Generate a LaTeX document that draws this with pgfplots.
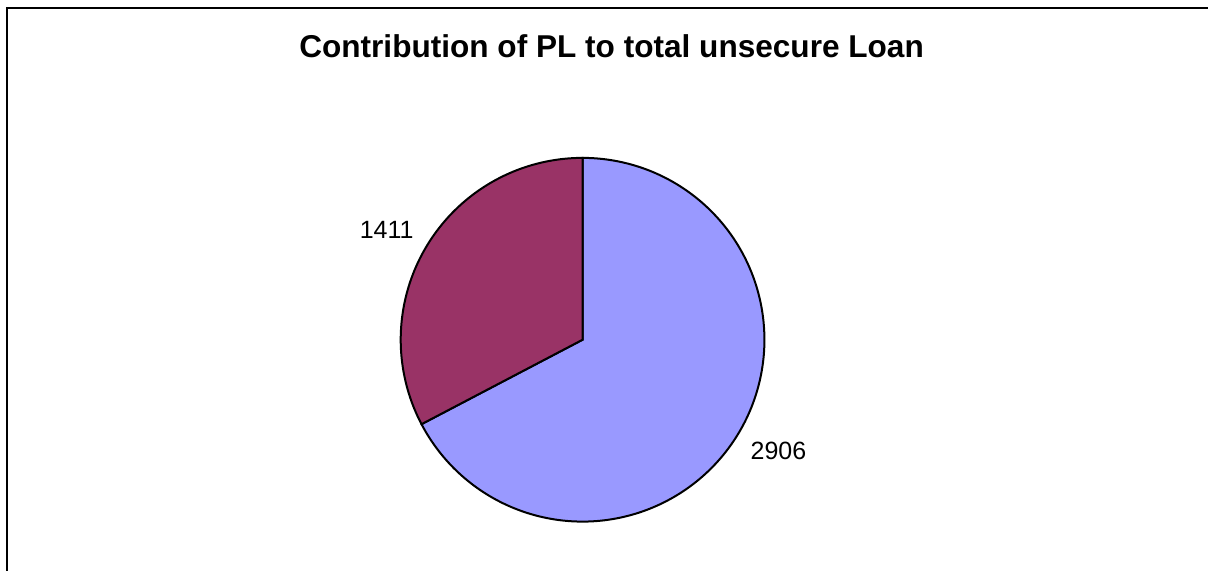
\documentclass[border=0pt]{standalone}
\usepackage{pgfplots}
\pgfplotsset{compat=1.18}
\usepackage{fontspec}
\setmainfont{Liberation Sans}
\definecolor{pieblue}{HTML}{9999FF}
\definecolor{piered}{HTML}{993366}
\begin{document}
\begin{tikzpicture}
\pgfmathsetmacro{\vA}{2906}
\pgfmathsetmacro{\vB}{1411}
\pgfmathsetmacro{\tot}{\vA+\vB}
\pgfmathsetmacro{\frA}{\vA/\tot}
\pgfmathsetmacro{\angA}{90-360*\frA}
\pgfmathsetmacro{\angB}{\angA+360}
\def\cx{583}
\def\cy{231}
\def\rr{182}
\begin{axis}[
  scale only axis, width=1209pt, height=571pt,
  xmin=0, xmax=1209, ymin=0, ymax=571,
  hide axis, clip=false,
]
\path (rel axis cs:0,0) rectangle (rel axis cs:1,1);
\draw[black, line width=1.8pt] (axis cs:7,0) -- (axis cs:7,563) -- (axis cs:1209,563);
\addplot[fill=pieblue, draw=black, line width=2pt, domain=\angA:90, samples=200]
  ({\cx+\rr*cos(x)}, {\cy+\rr*sin(x)}) -- (axis cs:\cx,\cy) -- cycle;
\addplot[fill=piered, draw=black, line width=2pt, domain=90:\angB, samples=120]
  ({\cx+\rr*cos(x)}, {\cy+\rr*sin(x)}) -- (axis cs:\cx,\cy) -- cycle;
\node[anchor=base, font=\fontsize{31.6}{36}\selectfont\bfseries] at (axis cs:612,513) {Contribution of PL to total unsecure Loan};
\node[font=\fontsize{25}{29}\selectfont] at (axis cs:387,341) {1411};
\node[font=\fontsize{25}{29}\selectfont] at (axis cs:779,120) {2906};
\end{axis}
\end{tikzpicture}
\end{document}
